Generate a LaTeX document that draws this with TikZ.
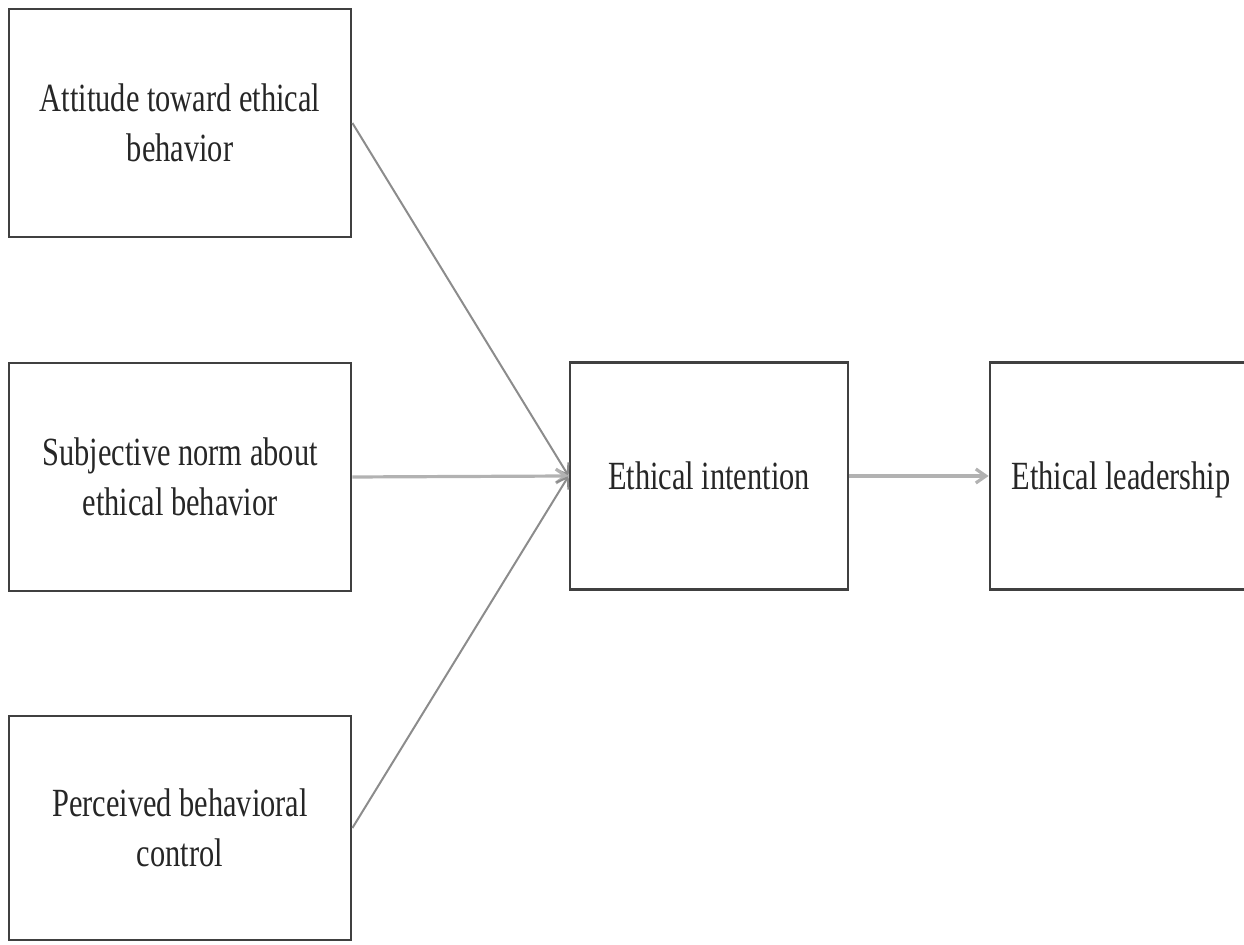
\documentclass[tikz,border=0pt]{standalone}
\usepackage{fontspec}
\setmainfont{Liberation Serif}[FakeStretch=0.76]
\usetikzlibrary{arrows.meta}
\tikzset{
  box/.style={draw=black!75, line width=1.4pt, fill=white, align=center,
    inner sep=0pt, text=black!85, font=\fontsize{20}{25}\selectfont},
  link/.style={draw=black!45, line width=1pt, -{Straight Barb[length=5pt,width=7pt]}}
}
\begin{document}
\begin{tikzpicture}[x=0.5pt,y=-0.5pt]
\useasboundingbox (0,0) rectangle (1244,945);
\begin{scope}
\clip (0,0) rectangle (1244,945);
\node[box, minimum width=171pt, minimum height=114pt] (A) at (180,123) {Attitude toward ethical\\behavior};
\node[box, minimum width=171pt, minimum height=114pt] (B) at (180,477) {Subjective norm about\\ethical behavior};
\node[box, minimum width=171pt, minimum height=112pt] (C) at (180,828) {Perceived behavioral\\control};
\node[box, minimum width=139pt, minimum height=113.5pt] (D) at (709,476) {Ethical intention};
\node[box, minimum width=131pt, minimum height=113.5pt] (E) at (1121,476) {\raisebox{0pt}[\height][0pt]{Ethical leadership}};
\draw[link] (A.east) -- (D.west);
\draw[link, draw=black!30, line width=1.6pt] (B.east) -- (D.west);
\draw[link] (C.east) -- (D.west);
\draw[link, draw=black!30, line width=1.6pt] (D.east) -- (E.west);
\end{scope}
\end{tikzpicture}
\end{document}
